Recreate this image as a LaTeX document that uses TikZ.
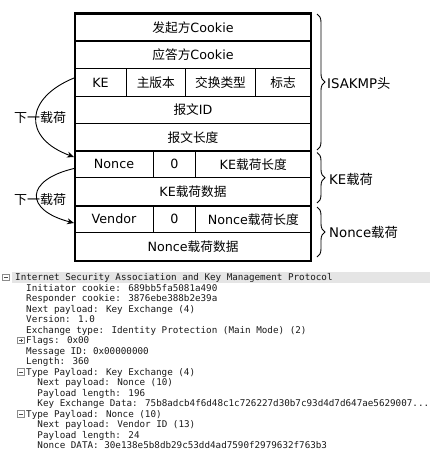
\documentclass[tikz,border=0pt]{standalone}
\usepackage{fontspec}
\setmainfont{DejaVu Sans}
\newfontfamily\cjk{Noto Sans CJK SC}
\newfontfamily\monof{DejaVu Sans Mono}
\usetikzlibrary{arrows.meta,decorations.pathreplacing}
\newcommand\zh[1]{{\cjk #1}}
\begin{document}
\begin{tikzpicture}[x=1pt,y=-1pt,
  tab/.style={font=\fontsize{12.7}{14}\selectfont, inner sep=0pt, text=black},
  side/.style={font=\fontsize{13.3}{15}\selectfont, inner sep=0pt, anchor=west},
  lbl/.style={font=\fontsize{13}{15}\selectfont, inner sep=0pt},
  mono/.style={font=\monof\fontsize{9.25}{10}\selectfont, inner sep=0pt, anchor=base west, text=black!90},
  rowline/.style={line width=1.3pt},
  thickline/.style={line width=2pt},
  colline/.style={line width=1pt},
  outer/.style={line width=2.2pt},
  brc/.style={decorate, decoration={brace, amplitude=8pt}, line width=0.9pt},
  nextarrow/.style={-{Stealth[length=7pt,width=6pt]}, line width=0.9pt},
  tbox/.style={draw=black!45, fill=white, minimum width=6.5pt, minimum height=6.5pt, inner sep=0pt, line width=0.6pt},
  sign/.style={black!70, line width=0.6pt},
]
\useasboundingbox (0,0) rectangle (438,450);

% ---------- table grid ----------
\draw[rowline] (75,41) -- (311,41);
\draw[rowline] (75,68.7) -- (311,68.7);
\draw[rowline] (75,96.3) -- (311,96.3);
\draw[rowline] (75,123.7) -- (311,123.7);
\draw[thickline] (75,151) -- (311,151);
\draw[rowline] (75,177.7) -- (311,177.7);
\draw[thickline] (75,205.7) -- (311,205.7);
\draw[rowline] (75,232.7) -- (311,232.7);
\draw[colline] (126,68.7) -- (126,96.3);
\draw[colline] (185.7,68.7) -- (185.7,96.3);
\draw[colline] (255.3,68.7) -- (255.3,96.3);
\draw[colline] (153.3,151) -- (153.3,177.7);
\draw[colline] (195.7,151) -- (195.7,177.7);
\draw[colline] (153.3,205.7) -- (153.3,232.7);
\draw[colline] (195.7,205.7) -- (195.7,232.7);
\draw[outer] (75,13.5) rectangle (311,261);

% ---------- table texts ----------
\node[tab] (c1) at (193,27.3) {\zh{发起方}Cookie};
\node[tab] (c2) at (193,55) {\zh{应答方}Cookie};
\node[tab] (c3a) at (100.5,82.5) {KE};
\node[tab] (c3b) at (155.8,82.5) {\zh{主版本}};
\node[tab] (c3c) at (220.5,82.5) {\zh{交换类型}};
\node[tab] (c3d) at (283,82.5) {\zh{标志}};
\node[tab] (c4) at (193,110) {\zh{报文}ID};
\node[tab] (c5) at (193,137.3) {\zh{报文长度}};
\node[tab] (c6a) at (114,164.3) {Nonce};
\node[tab] (c6b) at (174.5,164.3) {0};
\node[tab] (c6c) at (253.3,164.3) {KE\zh{载荷长度}};
\node[tab] (c7) at (193,191.7) {KE\zh{载荷数据}};
\node[tab] (c8a) at (114,219.2) {Vendor};
\node[tab] (c8b) at (174.5,219.2) {0};
\node[tab] (c8c) at (253.3,219.2) {Nonce\zh{载荷长度}};
\node[tab] (c9) at (193,246.8) {Nonce\zh{载荷数据}};

% ---------- braces ----------
\coordinate (b1s) at (317,14);
\coordinate (b1e) at (317,150);
\coordinate (b2s) at (317,152.5);
\coordinate (b2e) at (317,203);
\coordinate (b3s) at (317,207);
\coordinate (b3e) at (317,257);
\draw[brc] (b1s) -- (b1e);
\draw[brc] (b2s) -- (b2e);
\draw[brc] (b3s) -- (b3e);
\node[side] (s1) at (327,83) {ISAKMP\zh{头}};
\node[side] (s2) at (329,179) {KE\zh{载荷}};
\node[side] (s3) at (329,232) {Nonce\zh{载荷}};

% ---------- next-payload arrows ----------
\node[lbl] (n1) at (40,118) {\zh{下一载荷}};
\node[lbl] (n2) at (40,200) {\zh{下一载荷}};
\coordinate (a1s) at (74,78);
\coordinate (a1e) at (74,157);
\coordinate (a2s) at (74,168.5);
\coordinate (a2e) at (74,223);
\draw[nextarrow] (a1s) .. controls (25,98) and (22,138) .. (a1e);
\draw[nextarrow] (a2s) .. controls (25,180) and (24,210) .. (a2e);

% ---------- packet details ----------
\fill[black!10] (12,272) rectangle (430,282.5);
\node[tbox] (x0) at (6,277.3) {};
\draw[sign] (4.2,277.3) -- (7.8,277.3);
\node[tbox] (x6) at (21,340.3) {};
\draw[sign] (19.2,340.3) -- (22.8,340.3) (21,338.5) -- (21,342.1);
\node[tbox] (x9) at (21,371.8) {};
\draw[sign] (19.2,371.8) -- (22.8,371.8);
\node[tbox] (x13) at (21,413.8) {};
\draw[sign] (19.2,413.8) -- (22.8,413.8);

\node[mono] (t0) at (15,280.6) {Internet Security Association and Key Management Protocol};
\node[mono] (t1) at (26,291.1) {Initiator cookie: 689bb5fa5081a490};
\node[mono] (t2) at (26,301.6) {Responder cookie: 3876ebe388b2e39a};
\node[mono] (t3) at (26,312.1) {Next payload: Key Exchange (4)};
\node[mono] (t4) at (26,322.6) {Version: 1.0};
\node[mono] (t5) at (26,333.1) {Exchange type: Identity Protection (Main Mode) (2)};
\node[mono] (t6) at (26,343.6) {Flags: 0x00};
\node[mono] (t7) at (26,354.1) {Message ID: 0x00000000};
\node[mono] (t8) at (26,364.6) {Length: 360};
\node[mono] (t9) at (26,375.1) {Type Payload: Key Exchange (4)};
\node[mono] (t10) at (37.3,385.6) {Next payload: Nonce (10)};
\node[mono] (t11) at (37.3,396.1) {Payload length: 196};
\node[mono] (t12) at (37.3,406.6) {Key Exchange Data: 75b8adcb4f6d48c1c726227d30b7c93d4d7d647ae5629007...};
\node[mono] (t13) at (26,417.1) {Type Payload: Nonce (10)};
\node[mono] (t14) at (37.3,427.6) {Next payload: Vendor ID (13)};
\node[mono] (t15) at (37.3,438.1) {Payload length: 24};
\node[mono] (t16) at (37.3,448.3) {Nonce DATA: 30e138e5b8db29c53dd4ad7590f2979632f763b3};
\end{tikzpicture}
\end{document}
